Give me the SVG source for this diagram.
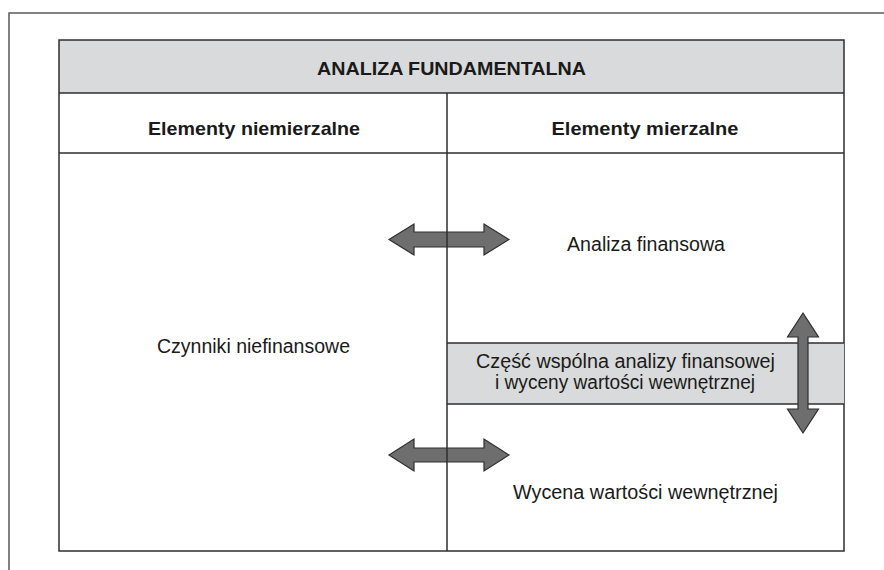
<svg xmlns="http://www.w3.org/2000/svg" width="884" height="570" viewBox="0 0 884 570">
<style>
.ln{stroke:#2e2e2e;stroke-width:1.5;fill:none}
.frame{stroke:#5a5a5a;stroke-width:1.5;fill:none}
.arr{fill:#6e6e6e;stroke:#2e2e2e;stroke-width:1.2;stroke-linejoin:miter}
.b{font-family:"Liberation Sans",Arial,sans-serif;font-weight:bold;font-size:18.5px;fill:#1a1a1a;text-anchor:middle}
.r{font-family:"Liberation Sans",Arial,sans-serif;font-size:19.5px;fill:#1a1a1a;text-anchor:middle}
</style>
<rect width="884" height="570" fill="#ffffff"/>
<path class="frame" d="M9,570 V13 H884"/>
<g id="table">
<rect x="59" y="40" width="785" height="53" fill="#d9dadb"/>
<rect x="59" y="40" width="785" height="511" class="ln"/>
<line class="ln" x1="59" y1="93" x2="844" y2="93"/>
<line class="ln" x1="59" y1="153" x2="844" y2="153"/>
</g>
<g id="header"><text class="b" x="451.5" y="74.5" textLength="269" lengthAdjust="spacingAndGlyphs">ANALIZA FUNDAMENTALNA</text></g>
<g id="col-left-head"><text class="b" x="254" y="134.5" textLength="212" lengthAdjust="spacingAndGlyphs">Elementy niemierzalne</text></g>
<g id="col-right-head"><text class="b" x="645" y="134.5" textLength="187" lengthAdjust="spacingAndGlyphs">Elementy mierzalne</text></g>
<g id="common">
<rect x="447" y="343" width="397" height="61" fill="#d9dadb"/>
<line class="ln" x1="447" y1="343" x2="844" y2="343"/>
<line class="ln" x1="447" y1="404" x2="844" y2="404"/>
<text class="r" x="625.5" y="368" textLength="299" lengthAdjust="spacingAndGlyphs">Część wspólna analizy finansowej</text>
<text class="r" x="625" y="389" textLength="260" lengthAdjust="spacingAndGlyphs">i wyceny wartości wewnętrznej</text>
</g>
<g id="czynniki"><text class="r" x="253.5" y="353" textLength="193" lengthAdjust="spacingAndGlyphs">Czynniki niefinansowe</text></g>
<g id="analiza-finansowa"><text class="r" x="646" y="251" textLength="158" lengthAdjust="spacingAndGlyphs">Analiza finansowa</text></g>
<g id="wycena"><text class="r" x="645.5" y="499" textLength="265" lengthAdjust="spacingAndGlyphs">Wycena wartości wewnętrznej</text></g>
<g id="connectors">
<polygon class="arr" points="389,239.5 414,224 414,232 484,232 484,224 509,239.5 484,255 484,247 414,247 414,255"/>
<polygon class="arr" points="389,455 414,439 414,448 484,448 484,439 509,455 484,471 484,462 414,462 414,471"/>
<line class="ln" x1="447" y1="93" x2="447" y2="551"/>
<polygon class="arr" points="803,313 818.5,337 808,337 808,409 818.5,409 803,433 787.5,409 798,409 798,337 787.5,337"/>
</g>
</svg>
